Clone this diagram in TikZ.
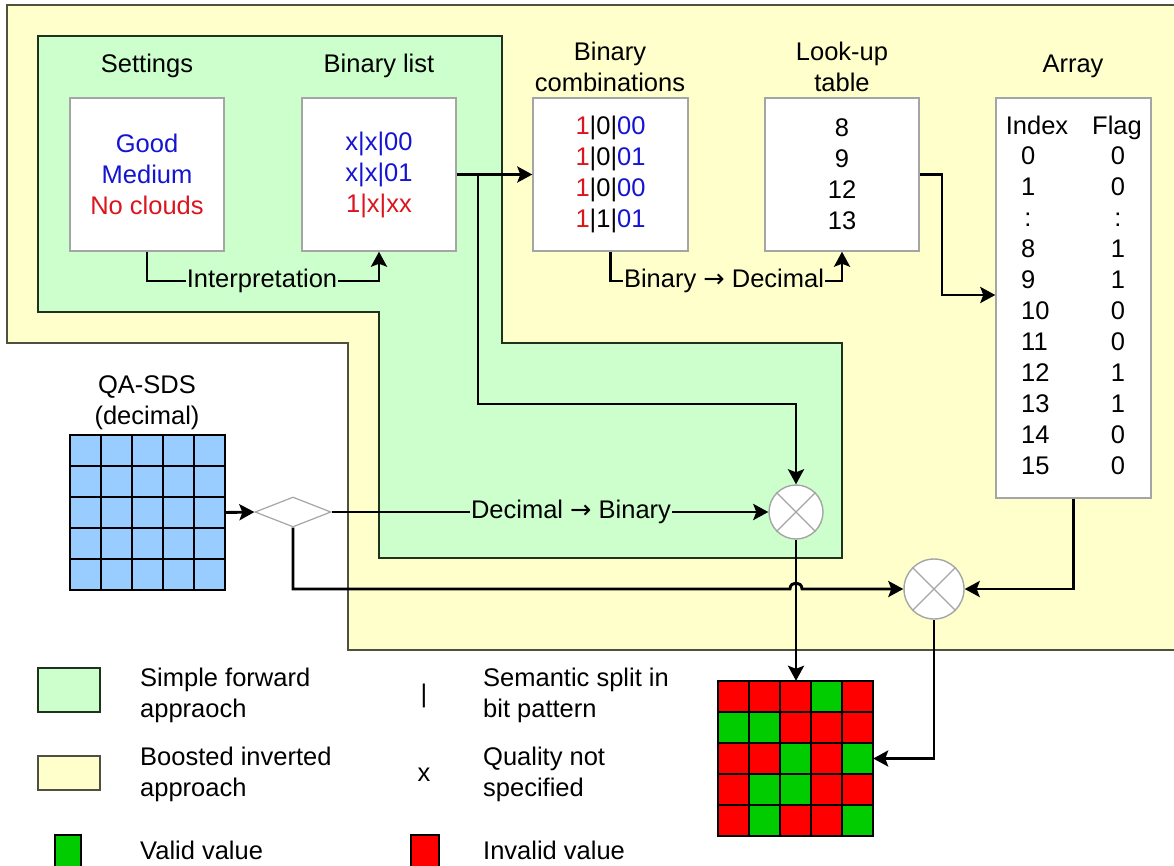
\documentclass[tikz,border=0pt]{standalone}
\usepackage{fontspec}
\setmainfont{Liberation Sans}
\newfontfamily\arrowfont{DejaVu Sans}
\usetikzlibrary{arrows.meta,shapes.geometric}
\definecolor{fillyel}{RGB}{255,255,204}
\definecolor{fillgrn}{RGB}{204,255,204}
\definecolor{edgeyel}{RGB}{80,80,64}
\definecolor{edgegrn}{RGB}{30,50,30}
\definecolor{boxgray}{RGB}{165,165,165}
\definecolor{qblue}{RGB}{153,204,255}
\definecolor{cg}{RGB}{0,204,0}
\definecolor{cr}{RGB}{255,0,0}
\definecolor{txtblue}{RGB}{20,20,210}
\definecolor{txtred}{RGB}{220,20,30}
\newcommand{\toarrow}{{\arrowfont →}}
\tikzset{
  conn/.style={line width=2.9pt, black},
  arr/.style={conn, -{Stealth[length=15pt,width=16pt,inset=3pt]}},
  wbox/.style={draw=boxgray, fill=white, line width=1.4pt, inner sep=0pt},
  lbl/.style={inner sep=1pt, fill=none},
  cellnum/.style={inner sep=0pt, text height=18.3pt, text depth=0pt},
  gridcell/.style={draw=black, line width=2.6pt},
  mixer/.style={circle, draw=boxgray, fill=white, line width=1.4pt, inner sep=0pt},
  xline/.style={draw=boxgray, line width=1.2pt},
  legtext/.style={anchor=west, align=left, inner sep=0pt},
}
\begin{document}
\begin{tikzpicture}[x=1pt, y=-1pt, font=\fontsize{25.5}{31}\selectfont]
\useasboundingbox (0,0) rectangle (1174,865);
\fill[white] (0,0) rectangle (1174,865);

% background regions of the two approaches
\draw[fill=fillyel, draw=edgeyel, line width=2.4pt]
  (7,5) -- (1195,5) -- (1195,650) -- (348,650) -- (348,343) -- (7,343) -- cycle;
\draw[fill=fillgrn, draw=edgegrn, line width=2.4pt]
  (38,36) -- (502,36) -- (502,343) -- (842,343) -- (842,558) -- (379,558) -- (379,312) -- (38,312) -- cycle;

% titles
\node (tset) at (147,66) {Settings};
\node (tbin) at (379,66) {Binary list};
\node[align=center] (tcomb) at (610,67) {Binary\\combinations};
\node[align=center] (tlut) at (842,67) {Look-up\\table};
\node (tarr) at (1073,66) {Array};

% boxes
\node[wbox, minimum width=154, minimum height=153, align=center] (set) at (147,174.5)
  {\textcolor{txtblue}{Good}\\\textcolor{txtblue}{Medium}\\\textcolor{txtred}{No clouds}};
\node[wbox, minimum width=154, minimum height=153, align=center] (binl) at (379,174.5)
  {\textcolor{txtblue}{x|x|00}\\\textcolor{txtblue}{x|x|01}\\\textcolor{txtred}{1|x|xx}};
\node[wbox, minimum width=155, minimum height=153, align=center] (comb) at (610.5,174.5)
  {\textcolor{txtred}{1}|0|\textcolor{txtblue}{00}\\\textcolor{txtred}{1}|0|\textcolor{txtblue}{01}\\
   \textcolor{txtred}{1}|0|\textcolor{txtblue}{00}\\\textcolor{txtred}{1}|1|\textcolor{txtblue}{01}};
\node[wbox, minimum width=154, minimum height=153, align=center] (lut) at (842,174.5)
  {8\\9\\12\\13};
\node[wbox, minimum width=155, minimum height=400] (arr) at (1073.5,298) {};

% array contents
\node[cellnum] (hidx) at (1037,125) {Index};
\node[cellnum] (hflg) at (1117,125) {Flag};
\foreach \ix/\fl/\yy [count=\k] in {0/0/155, 1/0/186, 8/1/248, 9/1/279, 10/0/310,
    11/0/341, 12/1/372, 13/1/403, 14/0/434, 15/0/465} {
  \node[cellnum, anchor=west] (idx\k) at (1021,\yy) {\ix};
  \node[cellnum] (flg\k) at (1118,\yy) {\fl};
}
\node[cellnum] (idxdots) at (1028,217) {:};
\node[cellnum] (flgdots) at (1118,217) {:};

% input grid
\node[minimum size=155, inner sep=0pt] (qa) at (147,512.5) {};
\foreach \i in {0,...,4} \foreach \j in {0,...,4}
  \draw[gridcell, fill=qblue] (70+31*\i,435+31*\j) rectangle ++(31,31);
\node[align=center] (tqa) at (147,403) {QA-SDS\\(decimal)};

% output grid
\node[minimum size=155, inner sep=0pt] (out) at (795.5,758.5) {};
\foreach \c [count=\k from 0] in {r,r,r,g,r, g,g,r,r,r, r,r,g,r,g, r,g,g,r,r, r,g,r,r,g} {
  \pgfmathtruncatemacro\ci{mod(\k,5)}
  \pgfmathtruncatemacro\cj{div(\k,5)}
  \draw[gridcell, fill=c\c] (718+31*\ci,681+31*\cj) rectangle ++(31,31);
}

% splitter and mixers
\node[diamond, draw=boxgray, fill=white, line width=1.2pt, inner sep=0pt,
      minimum width=76, minimum height=30, aspect=2.5] (dia) at (293,512) {};
\node[mixer, minimum size=54] (m1) at (796,512) {};
\draw[xline] (m1.north east) -- (m1.south west) (m1.north west) -- (m1.south east);
\node[mixer, minimum size=60] (m2) at (934,589) {};
\draw[xline] (m2.north east) -- (m2.south west) (m2.north west) -- (m2.south east);

% connector labels
\node[lbl] (interp) at (262,281) {Interpretation};
\node[lbl] (b2d) at (724,281) {Binary \toarrow{} Decimal};
\node[lbl] (d2b) at (571,512) {Decimal \toarrow{} Binary};

% connectors
\draw[conn] (set.south) |- (interp.west);
\draw[arr] (interp.east) -| (binl.south);
\draw[arr] (binl.east) -- (comb.west);
\coordinate (br) at (478,174.5);
\coordinate (turn1) at (478,404);
\draw[arr] (br) -- (turn1) -| (m1.north);
\draw[conn] (comb.south) |- (b2d.west);
\draw[arr] (b2d.east) -| (lut.south);
\coordinate (turn2) at (942,295);
\draw[arr] (lut.east) -| (turn2) -- (turn2 -| arr.west);
\draw[arr] (qa.east) -- (dia.west);
\draw[conn] (dia.east) -- (d2b.west);
\draw[arr] (d2b.east) -- (m1.west);
\coordinate (hop) at (m1.south |- m2.west);
\draw[arr] (dia.south) |- ([xshift=-6pt]hop)
  .. controls ([xshift=-6pt,yshift=8pt]hop) and ([xshift=6pt,yshift=8pt]hop) .. ([xshift=6pt]hop)
  -- (m2.west);
\draw[arr] (arr.south) |- (m2.east);
\draw[arr] (m1.south) -- (m1.south |- out.north);
\draw[arr] (m2.south) |- (out.east);

% legend
\node[draw=edgegrn, fill=fillgrn, line width=2pt, minimum width=62, minimum height=44, inner sep=0pt]
  (lg1) at (69,690) {};
\node[legtext] (lt1) at (140,695) {Simple forward\\appraoch};
\node[draw=edgeyel, fill=fillyel, line width=2pt, minimum width=62, minimum height=34, inner sep=0pt]
  (lg2) at (69,773) {};
\node[legtext] (lt2) at (140,774) {Boosted inverted\\approach};
\node[draw=black, fill=cg, line width=2pt, minimum width=26, minimum height=36, inner sep=0pt]
  (lg3) at (67.5,853) {};
\node[legtext] (lt3) at (140,850) {Valid value};
\node[inner sep=0pt] (ls1) at (424,696) {|};
\node[legtext] (lt4) at (483,695) {Semantic split in\\bit pattern};
\node[inner sep=0pt] (ls2) at (424,775) {x};
\node[legtext] (lt5) at (483,774) {Quality not\\specified};
\node[draw=black, fill=cr, line width=2pt, minimum width=28, minimum height=36, inner sep=0pt]
  (lg4) at (425,853) {};
\node[legtext] (lt6) at (483,850) {Invalid value};
\end{tikzpicture}
\end{document}
